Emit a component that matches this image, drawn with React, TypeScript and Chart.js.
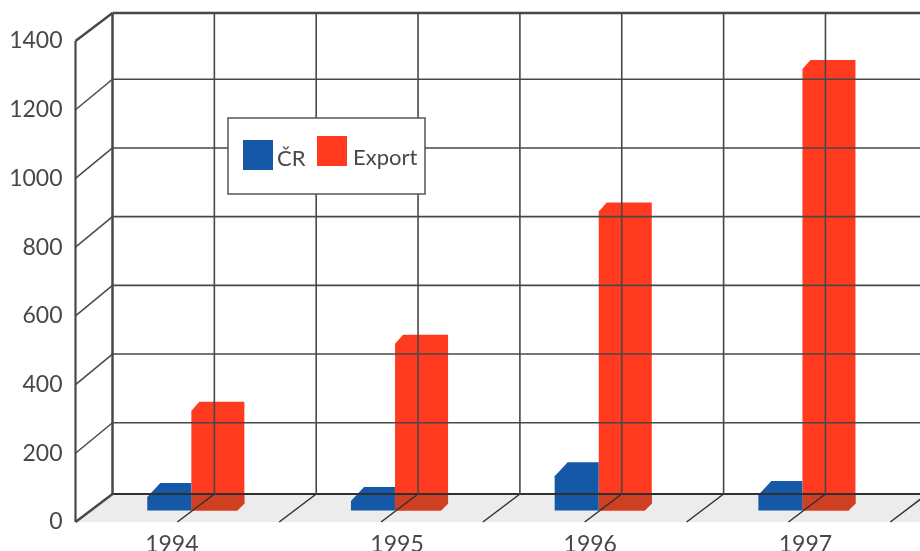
import React, { useEffect, useRef } from "react";
import { Chart, registerables } from "chart.js";

Chart.register(...registerables);

const years = ["1994", "1995", "1996", "1997"];
const crValues = [39, 28, 100, 45];
const exportValues = [290, 485, 870, 1285];
const yTicks = [0, 200, 400, 600, 800, 1000, 1200, 1400];
const seriesNames = ["ČR", "Export"];

const BLUE = "#1558a8";
const RED = "#ff3a1e";
const RED_DARK = "#cf3f22";
const FLOOR = "#ececec";
const INK = "#484848";
const FONT = "Lato, 'Open Sans', sans-serif";

const DEPTH_X = 37;
const DEPTH_Y = 28;
const WALL_SKEW = 2.5;
const BAR_LIFT = 11.5;
const barStyle = [
  { dx: 18.5, w: 44, cx: 13, cy: 14, foot: 0 },
  { dx: 14, w: 53, cx: 8, cy: 9, foot: 7 },
];
const labelShift = [-5.5, 16, 5.5, 17];

const wallPlugin = {
  id: "wall3d",
  beforeDatasetsDraw(chart: any) {
    const { ctx, chartArea: a } = chart;
    ctx.save();
    ctx.fillStyle = FLOOR;
    ctx.beginPath();
    ctx.moveTo(a.left, a.bottom);
    ctx.lineTo(a.left + DEPTH_X, a.bottom - DEPTH_Y);
    ctx.lineTo(920, a.bottom - DEPTH_Y);
    ctx.lineTo(920, a.bottom);
    ctx.closePath();
    ctx.fill();
    ctx.restore();
  },
  beforeDatasetDraw(chart: any, args: any) {
    const { ctx, chartArea: a } = chart;
    const i = args.index;
    const s = barStyle[i];
    const color = chart.data.datasets[i].backgroundColor;
    const path = (el: any) => {
      const half = el.width / 2;
      const l = el.x - half + s.dx;
      const r = l + s.w;
      const y = el.y - BAR_LIFT;
      const b = el.base - BAR_LIFT;
      ctx.beginPath();
      ctx.moveTo(l, b);
      ctx.lineTo(l, y);
      ctx.lineTo(l + s.cx, y - s.cy);
      ctx.lineTo(r, y - s.cy);
      ctx.lineTo(r, b - s.foot);
      ctx.lineTo(r - s.foot, b);
      ctx.closePath();
    };
    chart.getDatasetMeta(i).data.forEach((el: any) => {
      ctx.save();
      ctx.fillStyle = color;
      path(el);
      ctx.fill();
      if (i === 1) {
        path(el);
        ctx.clip();
        ctx.fillStyle = RED_DARK;
        ctx.fillRect(0, a.bottom - DEPTH_Y, 920, DEPTH_Y);
      }
      ctx.restore();
    });
    return false;
  },
  afterDatasetsDraw(chart: any) {
    const { ctx, chartArea: a, scales } = chart;
    const xs = scales.x;
    const ys = scales.y;
    const backLeft = a.left + DEPTH_X;
    const backBottom = a.bottom - DEPTH_Y;
    const backTop = a.top - DEPTH_Y;
    const line = (x1: number, y1: number, x2: number, y2: number, w: number, c = INK) => {
      ctx.strokeStyle = c;
      ctx.lineWidth = w;
      ctx.beginPath();
      ctx.moveTo(x1, y1);
      ctx.lineTo(x2, y2);
      ctx.stroke();
    };
    ctx.save();
    // horizontal lines on the back wall and their side-wall returns
    ys.ticks.forEach((t: any) => {
      const y = ys.getPixelForValue(t.value);
      const isEnd = t.value === 1400;
      const isBase = t.value === 0;
      const by = y - DEPTH_Y - (isEnd || isBase ? 0 : WALL_SKEW);
      line(a.left, y, backLeft, by, isEnd || isBase ? 2.5 : 1.5);
      line(backLeft, by, 920, by, isEnd ? 2.5 : isBase ? 2.2 : 1.6, isBase ? "#303030" : INK);
    });
    // vertical lines at band edges and band centres, plus floor returns
    const band = (xs.getPixelForValue(1) - xs.getPixelForValue(0)) / 2;
    years.forEach((_, i) => {
      const c = xs.getPixelForValue(i);
      [c - band, c, c + band].forEach((fx, k) => {
        if (k === 0 && i > 0) return;
        const bx = fx + DEPTH_X;
        line(bx, backTop, bx, backBottom, k === 0 ? 2.5 : 1.6);
        if (k > 0) line(bx, backBottom, fx, a.bottom, 1.5, "#303030");
      });
    });
    line(a.left, a.top, a.left, a.bottom, 2.2);
    // category labels
    ctx.fillStyle = INK;
    ctx.font = `23px ${FONT}`;
    ctx.textAlign = "center";
    ctx.textBaseline = "alphabetic";
    years.forEach((label, i) => {
      ctx.fillText(label, xs.getPixelForValue(i) + labelShift[i], 552);
    });
    // legend
    ctx.fillStyle = "#ffffff";
    ctx.fillRect(228, 118, 197, 76);
    ctx.strokeStyle = "#555555";
    ctx.lineWidth = 1.5;
    ctx.strokeRect(228, 118, 197, 76);
    ctx.fillStyle = BLUE;
    ctx.fillRect(243, 140, 30, 30);
    ctx.fillStyle = RED;
    ctx.fillRect(317, 136, 30, 30);
    ctx.fillStyle = INK;
    ctx.font = `22px ${FONT}`;
    ctx.textAlign = "left";
    ctx.fillText(seriesNames[0], 277, 166);
    ctx.fillText(seriesNames[1], 353, 165);
    ctx.restore();
  },
};

export default function App() {
  const ref = useRef<HTMLCanvasElement>(null);
  useEffect(() => {
    const chart = new Chart(ref.current as HTMLCanvasElement, {
      type: "bar",
      data: {
        labels: years,
        datasets: [
          { label: seriesNames[0], data: crValues, backgroundColor: BLUE },
          { label: seriesNames[1], data: exportValues, backgroundColor: RED },
        ],
      },
      options: {
        animation: false,
        responsive: false,
        devicePixelRatio: 1,
        layout: { padding: { top: 41, right: 29.7, bottom: 21, left: 0 } },
        plugins: { legend: { display: false }, tooltip: { enabled: false } },
        datasets: { bar: { categoryPercentage: 0.477, barPercentage: 1 } },
        scales: {
          x: {
            grid: { display: false },
            border: { display: false },
            ticks: { display: false },
          },
          y: {
            min: 0,
            max: 1400,
            afterBuildTicks: (s: any) => {
              s.ticks = yTicks.map((value) => ({ value }));
            },
            afterFit: (s: any) => {
              s.width = 75.5;
            },
            grid: { display: false, drawTicks: false },
            border: { display: false },
            ticks: {
              padding: 13,
              color: INK,
              font: { family: FONT, size: 23 },
              callback: (v: any) => String(v),
            },
          },
        },
      } as any,
      plugins: [wallPlugin],
    });
    return () => chart.destroy();
  }, []);
  return (
    <div style={{ position: "absolute", left: 0, top: 0, width: 920, height: 551, overflow: "hidden", background: "#fff" }}>
      <canvas ref={ref} width={920} height={551} style={{ display: "block" }} />
    </div>
  );
}
